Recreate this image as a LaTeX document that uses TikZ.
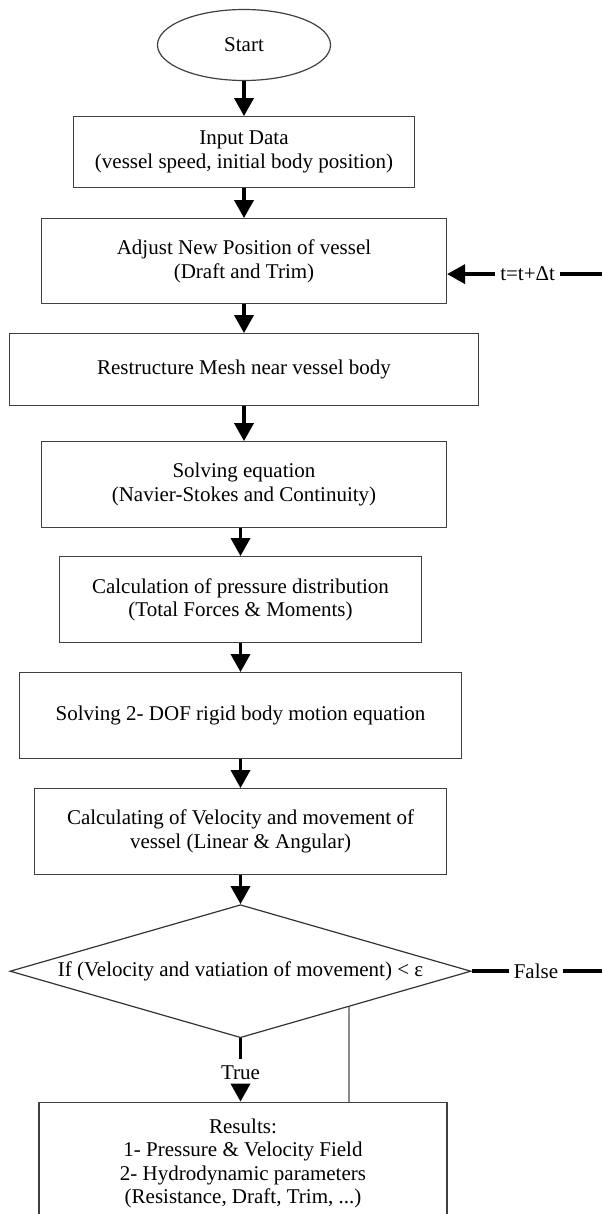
\documentclass[tikz,border=0pt]{standalone}
\usepackage{fontspec}
\setmainfont{Liberation Serif}
\usepackage{tikz}
\usetikzlibrary{shapes.geometric, arrows.meta, positioning, calc}
\tikzstyle{startstop} = [ellipse, minimum width=173pt, minimum height=71pt, inner sep=0pt, text centered, draw=black!75, line width=1.2pt]
\tikzstyle{process} = [rectangle, minimum height=85.8pt, inner sep=0pt, text centered, align=center, draw=black!75, line width=1.2pt]
\tikzstyle{decision} = [diamond, aspect=3.45, minimum width=461pt, minimum height=133pt, inner sep=0pt, text centered, draw=black!80, line width=1.2pt]
\tikzstyle{note} = [inner sep=5pt]
\tikzstyle{arrow} = [line width=3.5pt, -{Triangle[length=18pt, width=19pt]}, draw=black]
\tikzstyle{link} = [line width=3.5pt, draw=black]
\tikzstyle{branch} = [line width=1.5pt, draw=black!45]

\begin{document}
\begin{tikzpicture}[x=1pt, y=-1pt, node distance=29pt, font=\fontsize{21}{23.5}\selectfont]
        \useasboundingbox (0,0) rectangle (602,1214);
        \coordinate (rim) at (602,0);

        % Nodes
        \node (start) [startstop] at (244,45) {Start};
        \node (inp) [process, minimum width=341pt, minimum height=70.8pt, below=35pt of start] {Input Data\\(vessel speed, initial body position)};
        \node (adj) [process, minimum width=405pt, minimum height=84.8pt, below=30pt of inp] {Adjust New Position of vessel\\(Draft and Trim)};
        \node (mesh) [process, minimum width=469pt, minimum height=71.8pt, below=of adj] {Restructure Mesh near vessel body};
        \node (solve) [process, minimum width=405pt, below=35pt of mesh] {Solving equation\\(Navier-Stokes and Continuity)};
        \node (press) [process, minimum width=362pt, below=28pt of solve, xshift=-3.5pt] {Calculation of pressure distribution\\(Total Forces \& Moments)};
        \node (dof) [process, minimum width=442pt, below=of press] {Solving 2- DOF rigid body motion equation};
        \node (vel) [process, minimum width=412pt, below=of dof] {Calculating of Velocity and movement of\\vessel (Linear \& Angular)};
        \node (dec) [decision, below=of vel] {If (Velocity and vatiation of movement) < ε};
        \node (tru) [note, inner ysep=6pt, below=21pt of dec] {True};
        \node (res) [process, minimum width=408pt, minimum height=122pt, below=16pt of tru, xshift=2.5pt] {Results:\\1- Pressure \& Velocity Field\\2- Hydrodynamic parameters\\(Resistance, Draft, Trim, ...)};

        % Loop ends
        \node (tstep) [note, right=48pt of adj, yshift=-13pt] {t=t+Δt};
        \node (fls) [note, right=37pt of dec] {False};

        % Arrows
        \draw [arrow] (start) -- (inp);
        \draw [arrow] (inp) -- (adj);
        \draw [arrow] (adj) -- (mesh);
        \draw [arrow] (mesh) -- (solve);
        \draw [arrow] (press.north |- solve.south) -- (press);
        \draw [arrow] (press) -- (dof);
        \draw [arrow] (dof) -- (vel);
        \draw [arrow] (vel) -- (dec);
        \draw [link] (dec) -- (tru);
        \draw [arrow] (tru) -- (tru |- res.north);

        % time step in, False out
        \draw [link] (tstep -| rim) -- (tstep);
        \draw [arrow] (tstep) -- (tstep -| adj.east);
        \draw [link] (dec) -- (fls);
        \draw [link] (fls) -- (fls -| rim);
        \coordinate (fork) at ($(dec.south)!0.47!(dec.east)$);
        \draw [branch] (fork) -- (fork |- res.north);
    \end{tikzpicture}
\end{document}
